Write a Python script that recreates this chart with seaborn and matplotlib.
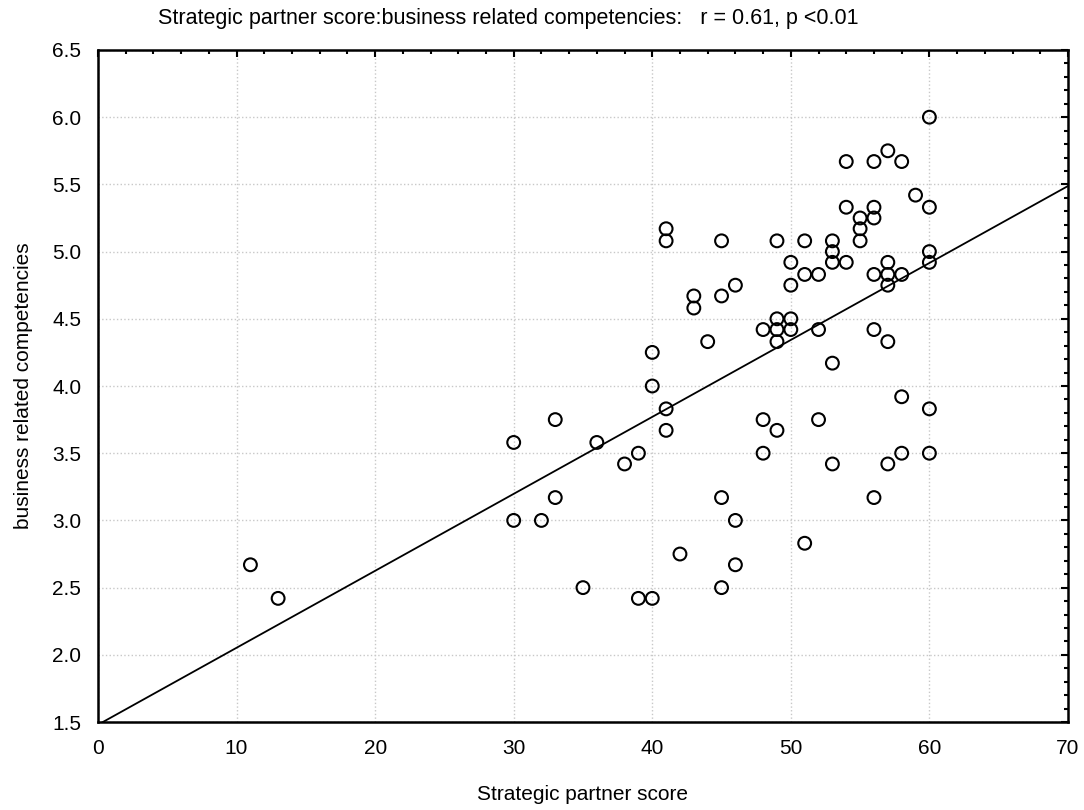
import numpy as np
import pandas as pd
import seaborn as sns
import matplotlib
matplotlib.use("Agg")
import matplotlib.pyplot as plt
from matplotlib.ticker import MultipleLocator, FormatStrFormatter

# Strategic partner score (x) and business related competencies (y)
partner_score = [11, 13, 30, 30, 32, 33, 33, 35, 36, 38, 39, 39, 40, 40, 40,
                 41, 41, 41, 41, 42, 43, 43, 44, 45, 45, 45, 45, 46, 46, 46,
                 48, 48, 48, 49, 49, 49, 49, 49, 50, 50, 50, 50, 51, 51, 51,
                 52, 52, 52, 53, 53, 53, 53, 53, 54, 54, 54, 55, 55, 55,
                 56, 56, 56, 56, 56, 56, 57, 57, 57, 57, 57, 57,
                 58, 58, 58, 58, 59, 60, 60, 60, 60, 60, 60]
competencies = [2.67, 2.42, 3.58, 3.00, 3.00, 3.75, 3.17, 2.50, 3.58, 3.42, 3.50, 2.42, 4.25, 4.00, 2.42,
                5.17, 5.08, 3.83, 3.67, 2.75, 4.67, 4.58, 4.33, 5.08, 4.67, 3.17, 2.50, 4.75, 3.00, 2.67,
                4.42, 3.75, 3.50, 5.08, 4.50, 4.42, 4.33, 3.67, 4.92, 4.75, 4.50, 4.42, 5.08, 4.83, 2.83,
                4.83, 4.42, 3.75, 5.08, 5.00, 4.92, 4.17, 3.42, 5.67, 5.33, 4.92, 5.25, 5.17, 5.08,
                5.67, 5.33, 5.25, 4.83, 4.42, 3.17, 5.75, 4.92, 4.83, 4.75, 4.33, 3.42,
                5.67, 4.83, 3.92, 3.50, 5.42, 6.00, 5.33, 5.00, 4.92, 3.83, 3.50]

title = "Strategic partner score:business related competencies:   r = 0.61, p <0.01"
x_label = "Strategic partner score"
y_label = "business related competencies"

df = pd.DataFrame({"x": partner_score, "y": competencies})

sns.set_style("white")
plt.rcParams['font.family'] = ['Liberation Sans', 'DejaVu Sans']
plt.rcParams['text.color'] = 'black'
plt.rcParams['axes.labelcolor'] = 'black'
plt.rcParams['xtick.color'] = 'black'
plt.rcParams['ytick.color'] = 'black'

fig = plt.figure(figsize=(10.84, 8.10), dpi=100)
ax = fig.add_axes([0.0904, 0.1086, 0.8948, 0.8297])

ax.set_xlim(0, 70)
ax.set_ylim(1.5, 6.5)

sns.scatterplot(data=df, x="x", y="y", ax=ax, marker="o", s=85,
                facecolors="none", edgecolor="black", linewidth=1.5, zorder=3)
sns.regplot(data=df, x="x", y="y", ax=ax, scatter=False, ci=None, truncate=False,
            line_kws=dict(color="black", lw=1.3, zorder=2))

ax.set_xlim(0, 70)
ax.set_ylim(1.5, 6.5)

ax.xaxis.set_major_locator(MultipleLocator(10))
ax.xaxis.set_minor_locator(MultipleLocator(2))
ax.yaxis.set_major_locator(MultipleLocator(0.5))
ax.yaxis.set_minor_locator(MultipleLocator(0.1))
ax.yaxis.set_major_formatter(FormatStrFormatter('%.1f'))

ax.tick_params(which='both', direction='in', top=True, right=True,
               color='black', width=1.5)
ax.tick_params(which='major', length=5, labelsize=15, pad=12)
ax.tick_params(which='minor', length=3)

ax.grid(True, which='major', linestyle=':', color='#c8c8c8', linewidth=1.0)
for sp in ax.spines.values():
    sp.set_color('black')
    sp.set_linewidth(1.8)

ax.set_xlabel(x_label, fontsize=15, labelpad=20)
ax.set_ylabel(y_label, fontsize=15, labelpad=14)

fig.text(0.469, 0.977, title, ha='center', va='center', fontsize=15.5,
         family=['Liberation Sans Narrow', 'Liberation Sans', 'DejaVu Sans'])

fig.savefig("out.png", dpi=100, facecolor="white")
